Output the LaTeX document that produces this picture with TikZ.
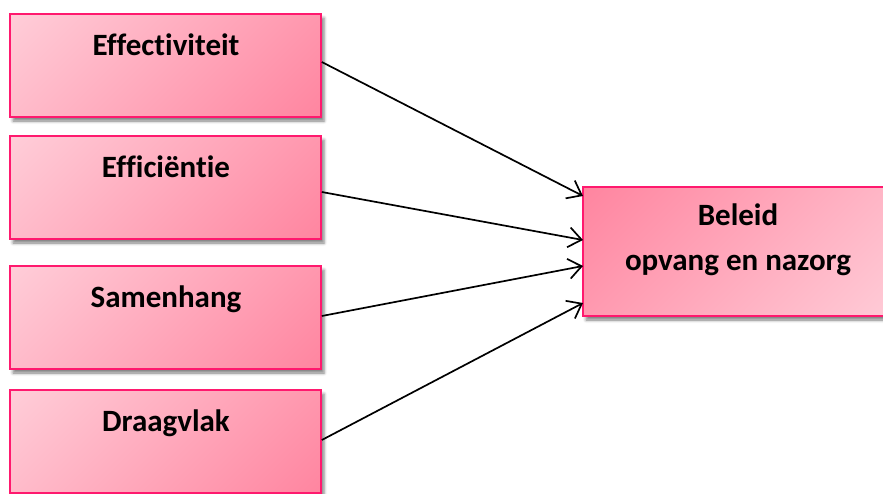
\documentclass[tikz,border=0pt]{standalone}
\usepackage{fontspec}
\setmainfont{Carlito}[Ligatures={NoCommon,NoRequired,NoContextual}]
\usetikzlibrary{arrows.meta,shadows.blur}

\definecolor{boxborder}{RGB}{255,25,110}
\definecolor{pinklight}{RGB}{255,220,228}
\definecolor{pinkdark}{RGB}{255,118,148}

% smooth corner-to-corner fades (0bp = bottom, 100bp = top)
\pgfdeclareverticalshading{factorfade}{100bp}{color(0bp)=(pinkdark); color(100bp)=(pinklight)}
\pgfdeclareverticalshading{targetfade}{100bp}{color(0bp)=(pinklight); color(100bp)=(pinkdark)}

\tikzset{
  factor/.style={draw=boxborder, line width=1.6pt, rectangle,
    minimum width=311pt, minimum height=103pt, inner sep=0pt,
    shading=factorfade, shading angle=45,
    blur shadow={shadow xshift=3pt, shadow yshift=-4pt,
      shadow blur radius=3pt, shadow opacity=50}},
  target/.style={draw=boxborder, line width=1.6pt, rectangle,
    minimum width=320pt, minimum height=129pt, inner sep=0pt,
    shading=targetfade, shading angle=45,
    blur shadow={shadow xshift=3pt, shadow yshift=-4pt,
      shadow blur radius=3pt, shadow opacity=50}},
  label/.style={anchor=base, font=\bfseries\fontsize{31}{45}\selectfont},
  link/.style={line width=1.7pt, -{Straight Barb[length=13pt,width=20pt,line width=1.7pt]}}
}

\begin{document}
\begin{tikzpicture}[x=1pt, y=-1pt]
\useasboundingbox (0,0) rectangle (883,493);
\clip (0,0) rectangle (883,493);

% left column of factors
\node[factor] (eff)  at (165.5,65.5)  {};
\node[factor] (effi) at (165.5,187.5) {};
\node[factor] (sam)  at (165.5,317.5) {};
\node[factor] (dra)  at (165.5,441.5) {};

\node[label] (teff)  at (166,55)  {Effectiviteit};
\node[label] (teffi) at (166,177) {Efficiëntie};
\node[label] (tsam)  at (166,307) {Samenhang};
\node[label] (tdra)  at (166,431) {Draagvlak};

% policy box on the right
\node[target] (bel) at (743,251.5) {};
\node[label] (tbel1) at (738,225) {Beleid};
\node[label] (tbel2) at (738,270) {opvang en nazorg};

% connectors
\coordinate (a1) at (583,196);
\coordinate (a2) at (583,240);
\coordinate (a3) at (583,266);
\coordinate (a4) at (583,303);
\draw[link] (eff.east  |- 0,62)  -- (a1);
\draw[link] (effi.east |- 0,192) -- (a2);
\draw[link] (sam.east  |- 0,316) -- (a3);
\draw[link] (dra.east  |- 0,440) -- (a4);
\end{tikzpicture}
\end{document}
